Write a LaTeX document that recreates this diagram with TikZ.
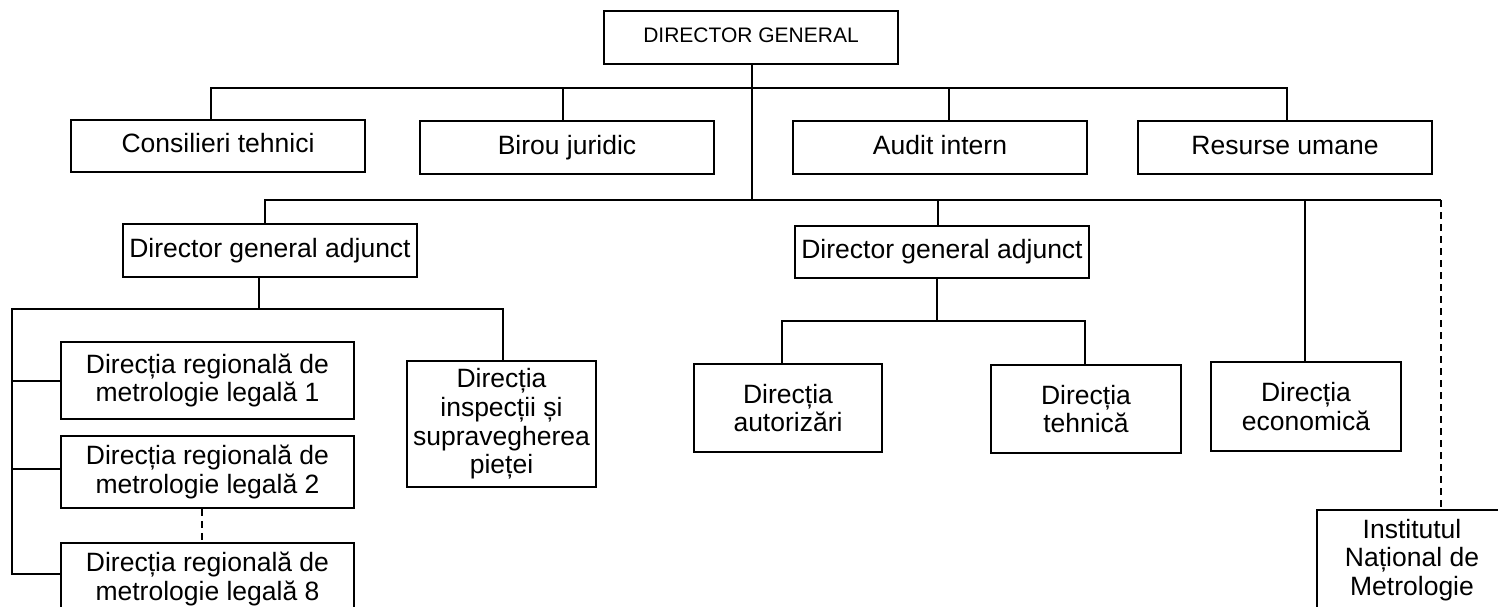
\documentclass[tikz,border=0pt]{standalone}
\usepackage{fontspec}
\setmainfont{Liberation Sans}
\begin{document}
\begin{tikzpicture}[x=1pt,y=-1pt,
  box/.style={draw, line width=1.8pt, rectangle, inner sep=0pt, align=center,
    font=\fontsize{26.5}{28.7}\selectfont},
  oneline/.style={text height=19pt, text depth=5.5pt},
  conn/.style={line width=1.8pt, line join=miter},
  dconn/.style={line width=1.8pt, dash pattern=on 7pt off 5pt}]
\useasboundingbox (0,0) rectangle (1498,607);
\clip (0,0) rectangle (1498,607);
\fill[white] (0,0) rectangle (1498,607);

% nodes
\node[box, minimum width=294, minimum height=53, font=\fontsize{21}{24}\selectfont, text height=15pt, text depth=4.5pt] (dg) at (751,37.5) {DIRECTOR GENERAL};
\node[box, oneline, minimum width=294, minimum height=52] (cons) at (218,146) {Consilieri tehnici};
\node[box, oneline, minimum width=294, minimum height=53] (birou) at (567,147.5) {Birou juridic};
\node[box, oneline, minimum width=294, minimum height=53] (audit) at (940,147.5) {Audit intern};
\node[box, oneline, minimum width=294, minimum height=53] (res) at (1285,147.5) {Resurse umane};
\node[box, oneline, minimum width=294, minimum height=53] (dga1) at (270,250.5) {Director general adjunct};
\node[box, oneline, minimum width=294, minimum height=52] (dga2) at (942,252) {Director general adjunct};
\node[box, minimum width=293, minimum height=77] (r1) at (207.5,380.5) {Direcția regională de\\metrologie legală 1};
\node[box, minimum width=293, minimum height=72] (r2) at (207.5,472) {Direcția regională de\\metrologie legală 2};
\node[box, minimum width=293, minimum height=72] (r8) at (207.5,579) {Direcția regională de\\metrologie legală 8};
\node[box, minimum width=189, minimum height=126] (insp) at (501.5,424) {Direcția\\inspecții și\\supravegherea\\pieței};
\node[box, minimum width=188, minimum height=88] (aut) at (788,408) {Direcția\\autorizări};
\node[box, minimum width=190, minimum height=88] (teh) at (1086,409) {Direcția\\tehnică};
\node[box, minimum width=190, minimum height=89] (eco) at (1306,406.5) {Direcția\\economică};
\node[box, minimum width=190, minimum height=100] (inm) at (1412,560) {Institutul\\Național de\\Metrologie};

% coordinates of buses
\coordinate (trunkbot) at (752,200);
\coordinate (b1l) at (211,88);
\coordinate (b1b) at (563,88);
\coordinate (b1a) at (949,88);
\coordinate (b1r) at (1287,88);
\coordinate (b2l) at (265,200);
\coordinate (b2c) at (938,200);
\coordinate (b2e) at (1305,200);
\coordinate (b2r) at (1441,200);
\coordinate (b3c) at (259,309);
\coordinate (b3l) at (12,309);
\coordinate (b3r) at (503,309);
\coordinate (br1) at (12,381);
\coordinate (br2) at (12,469);
\coordinate (b3bot) at (12,574);
\coordinate (dx) at (202,0);
\coordinate (b4c) at (937,321);
\coordinate (b4l) at (782,321);
\coordinate (b4r) at (1085,321);

% trunk
\draw[conn] (dg.south -| trunkbot) -- (trunkbot);
% bus 1
\draw[conn] (b1l |- cons.north) -- (b1l) -- (b1r) -- (b1r |- res.north);
\draw[conn] (b1b) -- (b1b |- birou.north);
\draw[conn] (b1a) -- (b1a |- audit.north);
% bus 2
\draw[conn] (b2l |- dga1.north) -- (b2l) -- (b2r);
\draw[conn] (b2c) -- (b2c |- dga2.north);
\draw[conn] (b2e) -- (b2e |- eco.north);
\draw[dconn] (b2r) -- (b2r |- inm.north);
% bus 3
\draw[conn] (b3c |- dga1.south) -- (b3c);
\draw[conn] (b3r |- insp.north) -- (b3r) -- (b3l) -- (b3bot) -- (b3bot -| r8.west);
\draw[conn] (br1) -- (br1 -| r1.west);
\draw[conn] (br2) -- (br2 -| r2.west);
\draw[dconn] (r2.south -| dx) -- (r8.north -| dx);
% bus 4
\draw[conn] (b4c |- dga2.south) -- (b4c);
\draw[conn] (b4l |- aut.north) -- (b4l) -- (b4r) -- (b4r |- teh.north);
\end{tikzpicture}
\end{document}
